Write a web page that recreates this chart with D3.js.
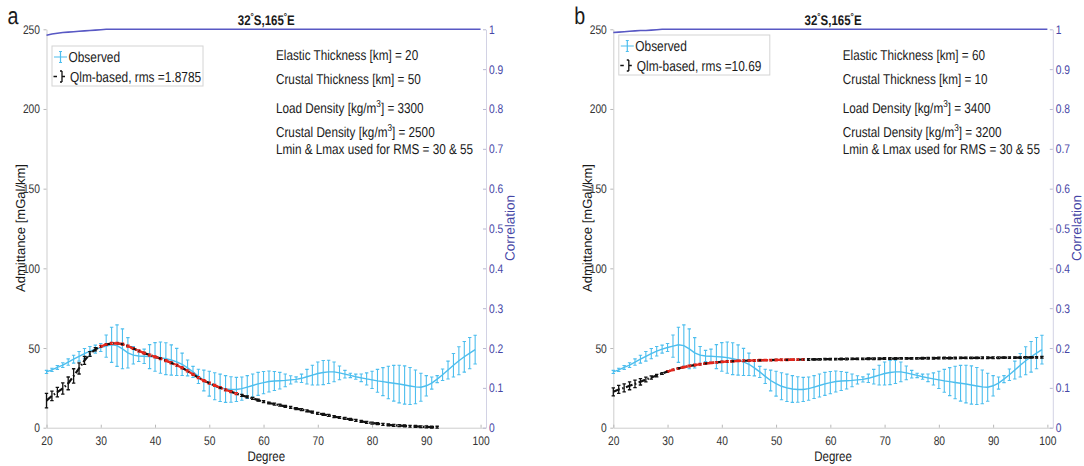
<!DOCTYPE html>
<html>
<head>
<meta charset="utf-8">
<script src="https://cdn.jsdelivr.net/npm/d3@7"></script>
<style>
  html, body { margin: 0; padding: 0; background: #fff; }
  svg text { font-family: "Liberation Sans", Arial, Helvetica, sans-serif; text-rendering: geometricPrecision; }
</style>
</head>
<body>
<svg id="chart" width="1084" height="466"></svg>
<script>
// ---- data -------------------------------------------------------------
// Spherical-harmonic degrees of the observed admittance
const degrees = [20,21,22,23,24,25,26,27,28,29,30,31,32,33,34,35,36,37,38,39,
                 40,41,42,43,44,45,46,47,48,49,50,51,52,53,54,55,56,57,58,59,
                 60,61,62,63,64,65,66,67,68,69,70,71,72,73,74,75,76,77,78,79,
                 80,81,82,83,84,85,86,87,88,89,90,91,92,93,94,95,96,97,98,99];

// Observed admittance [mGal/km] and its error half-width
const observed = [35.0,36.3,37.8,39.3,41.2,43.0,44.8,46.5,48.0,49.3,
                  50.3,51.2,52.0,51.5,49.5,47.0,45.5,45.0,44.8,44.6,
                  44.4,44.0,43.3,42.5,41.3,39.8,37.5,35.0,32.2,29.6,
                  27.6,26.0,25.0,24.3,24.0,24.0,24.5,25.5,26.5,27.5,
                  28.3,29.0,29.3,29.5,29.7,30.0,30.3,31.0,32.0,33.0,
                  34.0,34.6,35.0,35.0,34.4,33.6,32.8,32.0,31.3,30.6,
                  30.0,29.4,28.9,28.4,27.9,27.4,26.8,26.2,25.6,25.4,
                  26.3,28.0,30.5,33.2,36.2,39.2,42.0,44.5,46.8,49.0];
const observedErr = [1.0,1.0,1.2,1.5,2.0,2.5,3.0,3.2,3.0,2.5,
                     2.5,7.0,11.0,13.0,12.5,9.5,5.5,3.5,4.5,7.5,
                     9.0,9.8,10.0,9.5,8.5,7.0,5.0,3.5,4.5,6.5,
                     7.8,8.5,8.6,8.4,8.0,7.6,7.3,7.2,7.2,7.2,
                     7.0,6.6,6.0,5.2,4.0,2.6,1.6,2.6,4.6,6.2,
                     7.2,7.6,7.3,6.2,4.3,2.4,1.4,1.6,2.4,3.8,
                     5.4,7.2,8.8,10.2,11.2,11.8,12.0,11.6,10.6,8.8,
                     6.4,3.8,2.2,3.6,5.6,7.4,8.8,9.6,9.8,9.0];

// Qlm-based model admittance, model a (degrees 20..92)
const qlmA = [17.0,20.0,22.3,24.6,27.8,32.5,37.2,42.2,46.3,49.2,
              51.0,52.2,52.9,53.0,52.4,51.2,49.7,48.2,46.8,45.6,
              44.5,43.4,42.1,40.7,39.2,37.6,35.6,33.5,31.4,29.5,
              28.0,26.5,25.1,23.8,22.6,21.4,20.3,19.3,18.4,17.3,
              16.3,15.5,14.8,14.1,13.4,12.7,12.0,11.4,10.6,9.8,
              9.0,8.4,7.7,7.0,6.4,5.8,5.2,4.6,4.0,3.4,
              2.9,2.5,2.1,1.8,1.5,1.3,1.1,0.9,0.8,0.6,
              0.5,0.4,0.3];
const qlmAErr = [4.5,3.0,3.0,3.5,4.0,4.5,3.5,2.5,1.5,1.0,
                 0.6,0.6,0.6,0.6,0.6,0.6,0.6,0.6,0.6,0.6,
                 0.6,0.6,0.6,0.6,0.6,0.6,0.6,0.6,0.6,0.6,
                 0.6,0.6,0.6,0.6,0.6,0.6,0.6,0.6,0.6,0.6,
                 0.6,0.6,0.6,0.6,0.6,0.6,0.6,0.6,0.6,0.6,
                 0.6,0.6,0.6,0.6,0.6,0.6,0.6,0.6,0.6,0.6,
                 0.6,0.6,0.6,0.6,0.6,0.6,0.6,0.6,0.6,0.6,
                 0.6,0.6,0.6];

// Qlm-based model admittance, model b (degrees 20..99)
const qlmB = [22.5,24.0,25.0,26.3,27.5,28.8,30.2,31.5,32.7,34.0,
              35.3,36.3,37.2,38.0,38.7,39.3,39.8,40.3,40.7,41.0,
              41.3,41.5,41.7,41.9,42.0,42.1,42.2,42.3,42.4,42.4,
              42.5,42.6,42.6,42.7,42.7,42.8,42.8,42.9,42.9,43.0,
              43.0,43.0,43.1,43.1,43.2,43.2,43.2,43.3,43.3,43.3,
              43.4,43.4,43.4,43.5,43.5,43.5,43.5,43.6,43.6,43.6,
              43.7,43.7,43.7,43.7,43.8,43.8,43.8,43.8,43.9,43.9,
              43.9,43.9,44.0,44.0,44.0,44.0,44.1,44.1,44.1,44.2];
const qlmBErr = [2.5,2.5,2.5,2.5,2.3,2.0,1.5,1.0,0.8,0.6,
                 0.5,0.5,0.5,0.5,0.5,0.5,0.5,0.5,0.5,0.5,
                 0.5,0.5,0.5,0.5,0.5,0.5,0.5,0.5,0.5,0.5,
                 0.5,0.5,0.5,0.5,0.5,0.5,0.5,0.5,0.5,0.5,
                 0.5,0.5,0.5,0.5,0.5,0.5,0.5,0.5,0.5,0.5,
                 0.5,0.5,0.5,0.5,0.5,0.5,0.5,0.5,0.5,0.5,
                 0.5,0.5,0.5,0.5,0.5,0.5,0.5,0.5,0.5,0.5,
                 0.5,0.5,0.5,0.5,0.5,0.5,0.5,0.5,0.5,0.5];

// Correlation between gravity and topography (degrees 20..100)
const corrDegrees = [20,21,22,23,24,25,26,27,28,29,30,31,32,33,34,35,36,37,38,39,
                     40,41,42,43,44,45,46,47,48,49,50,51,52,53,54,55,56,57,58,59,
                     60,61,62,63,64,65,66,67,68,69,70,71,72,73,74,75,76,77,78,79,
                     80,81,82,83,84,85,86,87,88,89,90,91,92,93,94,95,96,97,98,99,100];
const corrA = [0.985,0.988,0.990,0.992,0.993,0.994,0.995,0.996,0.997,0.998,
               0.999,1,1,1,1,1,1,1,1,1,
               1,1,1,1,1,1,1,1,1,1,
               1,1,1,1,1,1,1,1,1,1,
               1,1,1,1,1,1,1,1,1,1,
               1,1,1,1,1,1,1,1,1,1,
               1,1,1,1,1,1,1,1,1,1,
               1,1,1,1,1,1,1,1,1,1,1];
const corrB = [0.992,0.993,0.994,0.995,0.996,0.997,0.997,0.998,0.999,1,
               1,1,1,1,1,1,1,1,1,1,
               1,1,1,1,1,1,1,1,1,1,
               1,1,1,1,1,1,1,1,1,1,
               1,1,1,1,1,1,1,1,1,1,
               1,1,1,1,1,1,1,1,1,1,
               1,1,1,1,1,1,1,1,1,1,
               1,1,1,1,1,1,1,1,1,1,1];

// Model parameters for the two panels
const panelLetters = ["a", "b"];
const elasticThickness = [20, 60];
const crustalThickness = [50, 10];
const loadDensity = [3300, 3400];
const crustalDensity = [2500, 3200];
const rmsValues = ["1.8785", "10.69"];
const rmsRange = [30, 55];

// Tick labels
const degreeTicks = [20, 30, 40, 50, 60, 70, 80, 90, 100];
const admittanceTicks = [0, 50, 100, 150, 200, 250];
const correlationTicks = [0, 0.1, 0.2, 0.3, 0.4, 0.5, 0.6, 0.7, 0.8, 0.9, 1];

// ---- drawing ----------------------------------------------------------
const SX = 0.82;                // horizontal text condensation
const C_OBS = "#4dbeee";
const C_QLM = "#111111";
const C_RMS = "#e8261c";
const C_COR = "#5858c4";
const C_COR_TXT = "#4646a6";
const C_AX = "#cdcdcd";

const svg = d3.select("#chart");
svg.append("rect").attr("width", 1084).attr("height", 466).attr("fill", "#fff");

// text helper: parts are strings or {sup: "..."}
function richText(g, x, y, parts, o = {}) {
  const tf = o.rotate ? `translate(${x},${y}) rotate(-89.9)` : `translate(${x},${y}) scale(${SX},1)`;
  const t = g.append("text")
    .attr("transform", tf)
    .attr("font-size", o.size || 14)
    .attr("text-anchor", o.anchor || "start")
    .attr("font-weight", o.weight || "normal")
    .attr("fill", o.fill || "#1a1a1a");
  let raised = 0;
  (Array.isArray(parts) ? parts : [parts]).forEach(p => {
    const s = t.append("tspan");
    if (typeof p === "string") {
      s.text(p);
      if (raised) { s.attr("dy", raised); raised = 0; }
    } else {
      const sh = p.shift || 6;
      s.text(p.sup).attr("font-size", p.size || 10).attr("dy", -sh);
      raised = sh;
    }
  });
  return t;
}

const panels = [
  { x0: 46.5, x1: 486, qlm: qlmA, qlmErr: qlmAErr, corr: corrA, legY: 46 },
  { x0: 613.3, x1: 1052.8, qlm: qlmB, qlmErr: qlmBErr, corr: corrB, legY: 35 }
];
const yTop = 29.3, yBot = 427.7;

panels.forEach((P, pi) => {
  const g = svg.append("g");
  const x = d3.scaleLinear().domain([20, 101]).range([P.x0, P.x1]);
  const y = d3.scaleLinear().domain([0, 250]).range([yBot, yTop]);
  const yc = d3.scaleLinear().domain([0, 1]).range([yBot, yTop]);
  const cx = (P.x0 + P.x1) / 2;

  // left axis (ticks outward)
  const ax = g.append("g").attr("transform", `translate(${P.x0},0)`)
    .call(d3.axisLeft(y).tickValues(admittanceTicks).tickSize(3).tickSizeOuter(0).tickPadding(3));
  ax.selectAll("text").attr("x", -6.5 / SX).attr("transform", `scale(${SX},1)`)
    .attr("font-size", 12.5).attr("fill", "#333");

  // bottom axis (ticks inward)
  const bx = g.append("g").attr("transform", `translate(0,${yBot})`)
    .call(d3.axisBottom(x).tickValues(degreeTicks).tickSize(-3).tickSizeOuter(0).tickPadding(8));
  bx.selectAll("text").attr("transform", `scale(${SX},1)`)
    .attr("font-size", 12.5).attr("fill", "#333");

  // right axis (ticks inward), correlation
  const rx = g.append("g").attr("transform", `translate(${P.x1},0)`)
    .call(d3.axisRight(yc).tickValues(correlationTicks).tickFormat(d3.format("~g"))
      .tickSize(-3).tickSizeOuter(0).tickPadding(3));
  rx.selectAll("text").attr("x", 3 / SX).attr("transform", `scale(${SX},1)`)
    .attr("font-size", 12.5).attr("fill", C_COR_TXT);

  [ax, bx].forEach(a => {
    a.select(".domain").attr("stroke", C_AX);
    a.selectAll(".tick line").attr("stroke", "#b8b8b8");
  });
  rx.select(".domain").attr("stroke", "#d2d2e4");
  rx.selectAll(".tick line").attr("stroke", "#b8b8d0");

  // correlation curve
  g.append("path")
    .datum(corrDegrees.map((d, i) => [d, P.corr[i]]))
    .attr("fill", "none").attr("stroke", C_COR).attr("stroke-width", 1.6)
    .attr("d", d3.line().x(d => x(d[0])).y(d => yc(d[1])));

  const cap = 1.7;
  function errorBars(sel, vals, errs, color, width) {
    vals.forEach((v, i) => {
      const px = x(degrees[i]);
      const y0 = y(v - errs[i]), y1 = y(v + errs[i]);
      const c = typeof color === "function" ? color(degrees[i]) : color;
      sel.append("path")
        .attr("d", `M${px},${y0}V${y1}M${px - cap},${y0}H${px + cap}M${px - cap},${y1}H${px + cap}`)
        .attr("stroke", c).attr("stroke-width", width).attr("fill", "none");
    });
  }
  const line = d3.line().x(d => x(d[0])).y(d => y(d[1]));

  // observed admittance with error bars
  const og = g.append("g");
  errorBars(og, observed, observedErr, C_OBS, 1.1);
  og.append("path")
    .datum(observed.map((v, i) => [degrees[i], v]))
    .attr("fill", "none").attr("stroke", C_OBS).attr("stroke-width", 1.4)
    .attr("d", line);

  // Qlm-based model: black everywhere, red over the RMS window
  const qg = g.append("g");
  const inRms = d => d >= rmsRange[0] && d <= rmsRange[1];
  errorBars(qg, P.qlm, P.qlmErr, d => inRms(d) ? C_RMS : C_QLM, 1.3);
  const qpts = P.qlm.map((v, i) => [degrees[i], v]);
  qg.append("path").datum(qpts)
    .attr("fill", "none").attr("stroke", C_QLM).attr("stroke-width", 2.2)
    .attr("stroke-dasharray", "7,2.5,1.5,2.5").attr("d", line);
  qg.append("path").datum(qpts.filter(p => inRms(p[0])))
    .attr("fill", "none").attr("stroke", C_RMS).attr("stroke-width", 2.2)
    .attr("stroke-dasharray", "7,2.5,1.5,2.5").attr("d", line);

  // title, panel letter, axis labels
  richText(g, cx, 25, ["32", { sup: "°", size: 10, shift: 5 }, "S,165", { sup: "°", size: 10, shift: 5 }, "E"],
    { size: 14, weight: "bold", anchor: "middle" });
  richText(g, P.x0 - 39, 24, panelLetters[pi], { size: 24 });
  richText(g, P.x0 - 21.5, 228, "Admittance [mGal/km]", { size: 13, anchor: "middle", rotate: true });
  richText(g, P.x1 + 28.5, 228, "Correlation", { size: 13.5, anchor: "middle", rotate: true, fill: C_COR_TXT });
  richText(g, cx, 461, "Degree", { size: 14, anchor: "middle" });

  // model parameter annotations
  const tx = P.x0 + 229.5;
  richText(g, tx, 60, `Elastic Thickness [km] = ${elasticThickness[pi]}`, { size: 14.3 });
  richText(g, tx, 84, `Crustal Thickness [km] = ${crustalThickness[pi]}`, { size: 14.3 });
  richText(g, tx, 113, ["Load Density [kg/m", { sup: "3" }, `] = ${loadDensity[pi]}`], { size: 14.3 });
  richText(g, tx, 137, ["Crustal Density [kg/m", { sup: "3" }, `] = ${crustalDensity[pi]}`], { size: 14.3 });
  richText(g, tx, 154, `Lmin & Lmax used for RMS = ${rmsRange[0]} & ${rmsRange[1]}`, { size: 14.3 });

  // legend
  const lx = P.x0 + 5.5, ly = P.legY;
  const lg = g.append("g");
  lg.append("rect").attr("x", lx).attr("y", ly).attr("width", 151).attr("height", 40)
    .attr("fill", "#fff").attr("stroke", "#d4d4d4").attr("stroke-width", 1);
  const r1 = ly + 11, r2 = ly + 30.5;
  lg.append("path")
    .attr("d", `M${lx + 2},${r1}H${lx + 15}M${lx + 8.5},${r1 - 5.5}V${r1 + 5.5}M${lx + 7},${r1 - 5.5}H${lx + 10}M${lx + 7},${r1 + 5.5}H${lx + 10}`)
    .attr("stroke", C_OBS).attr("stroke-width", 1.2).attr("fill", "none");
  lg.append("path")
    .attr("d", `M${lx + 1.5},${r2}H${lx + 5}M${lx + 10},${r2 - 5.5}V${r2 + 5.5}M${lx + 8},${r2 - 5.5}H${lx + 10}M${lx + 8},${r2 + 5.5}H${lx + 10}M${lx + 10},${r2}H${lx + 13}`)
    .attr("stroke", C_QLM).attr("stroke-width", 1.3).attr("fill", "none");
  richText(lg, lx + 16.5, r1 + 5.2, "Observed", { size: 14.5 });
  richText(lg, lx + 18, r2 + 5.2, `Qlm-based, rms =${rmsValues[pi]}`, { size: 14.5 });
});
</script>
</body>
</html>
